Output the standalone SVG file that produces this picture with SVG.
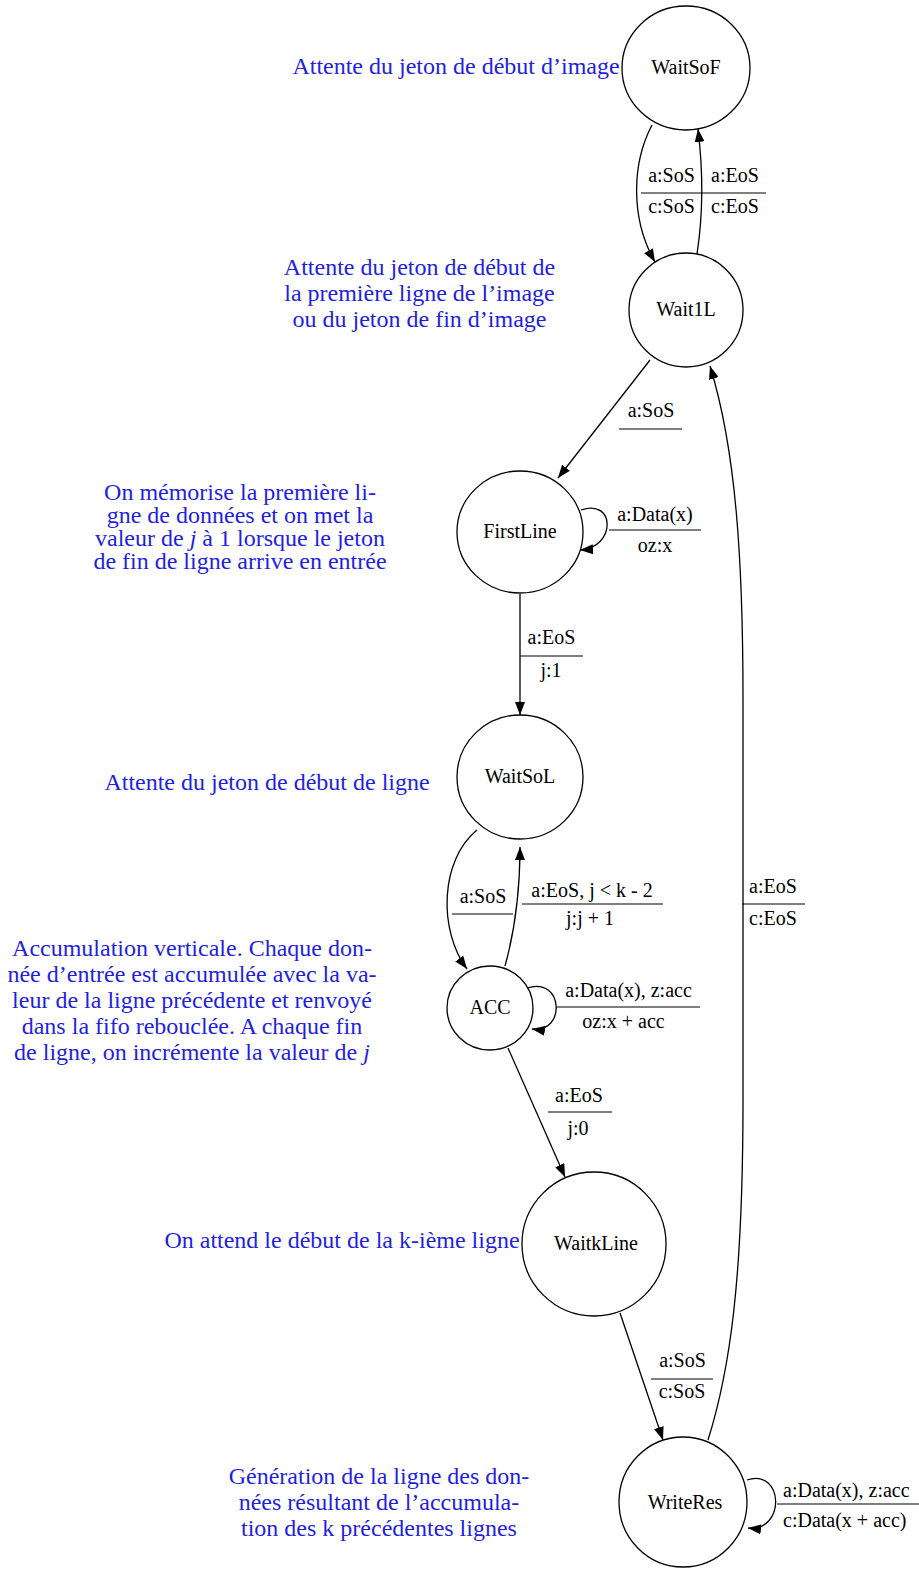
<svg xmlns="http://www.w3.org/2000/svg" width="919" height="1575" viewBox="0 0 919 1575">
<defs>
<style>
.node ellipse{fill:none;stroke:#000;stroke-width:1.3}
.node text{font-family:"Liberation Serif","Times New Roman",serif;font-size:20px;fill:#000;text-anchor:middle}
.note{font-family:"Liberation Serif","Times New Roman",serif;font-size:24px;fill:#1f1fe0;text-anchor:middle}
.edge path{fill:none;stroke:#000;stroke-width:1.3}
.edge line{stroke:#000;stroke-width:1.2}
.lbl{font-family:"Liberation Serif","Times New Roman",serif;font-size:20px;fill:#000;text-anchor:middle}
.lbs{font-family:"Liberation Serif","Times New Roman",serif;font-size:20px;fill:#000;text-anchor:start}
</style>
<marker id="arr" markerWidth="14" markerHeight="10" refX="13" refY="5" orient="auto" markerUnits="userSpaceOnUse"><path d="M0,0 L13,5 L0,10 z" fill="#000"/></marker>
</defs>
<rect width="919" height="1575" fill="#fff"/>

<g id="annotations">
<text class="note" x="456" y="74">Attente du jeton de début d’image</text>
<text class="note" x="419.5" y="275">Attente du jeton de début de</text>
<text class="note" x="419.5" y="301">la première ligne de l’image</text>
<text class="note" x="419.5" y="327">ou du jeton de fin d’image</text>
<text class="note" x="240" y="500">On mémorise la première li-</text>
<text class="note" x="240" y="523">gne de données et on met la</text>
<text class="note" x="240" y="546">valeur de <tspan font-style="italic">j</tspan> à 1 lorsque le jeton</text>
<text class="note" x="240" y="569">de fin de ligne arrive en entrée</text>
<text class="note" x="267" y="790">Attente du jeton de début de ligne</text>
<text class="note" x="192" y="956">Accumulation verticale. Chaque don-</text>
<text class="note" x="192" y="982">née d’entrée est accumulée avec la va-</text>
<text class="note" x="192" y="1008">leur de la ligne précédente et renvoyé</text>
<text class="note" x="192" y="1034">dans la fifo rebouclée. A chaque fin</text>
<text class="note" x="192" y="1060">de ligne, on incrémente la valeur de <tspan font-style="italic">j</tspan></text>
<text class="note" x="342" y="1248">On attend le début de la k-ième ligne</text>
<text class="note" x="379" y="1484">Génération de la ligne des don-</text>
<text class="note" x="379" y="1510">nées résultant de l’accumula-</text>
<text class="note" x="379" y="1536">tion des k précédentes lignes</text>
</g>

<g id="node-WaitSoF" class="node"><ellipse cx="686" cy="68" rx="64" ry="62"/><text x="686" y="74">WaitSoF</text></g>
<g id="node-Wait1L" class="node"><ellipse cx="686" cy="310" rx="57" ry="57"/><text x="686" y="316">Wait1L</text></g>
<g id="node-FirstLine" class="node"><ellipse cx="520" cy="532" rx="63" ry="61"/><text x="520" y="538">FirstLine</text></g>
<g id="node-WaitSoL" class="node"><ellipse cx="520" cy="777" rx="63" ry="62"/><text x="520" y="783">WaitSoL</text></g>
<g id="node-ACC" class="node"><ellipse cx="490" cy="1008" rx="43" ry="42"/><text x="490" y="1014">ACC</text></g>
<g id="node-WaitkLine" class="node"><ellipse cx="594" cy="1244" rx="72" ry="72"/><text x="596" y="1250">WaitkLine</text></g>
<g id="node-WriteRes" class="node"><ellipse cx="683" cy="1502" rx="64" ry="65"/><text x="685" y="1509">WriteRes</text></g>

<g id="connectors" class="edge">
<!-- WaitSoF -> Wait1L -->
<path d="M652,125 C631,165 631,220 655,262" marker-end="url(#arr)"/>
<text class="lbl" x="671.5" y="182">a:SoS</text>
<line x1="641" y1="193" x2="700" y2="193"/>
<text class="lbl" x="671.5" y="213">c:SoS</text>
<!-- Wait1L -> WaitSoF -->
<path d="M697,254 C703,215 703,170 698,129" marker-end="url(#arr)"/>
<text class="lbl" x="735" y="182">a:EoS</text>
<line x1="700" y1="193" x2="766" y2="193"/>
<text class="lbl" x="735" y="213">c:EoS</text>
<!-- Wait1L -> FirstLine -->
<path d="M650,360 L558,478" marker-end="url(#arr)"/>
<text class="lbl" x="651" y="417">a:SoS</text>
<line x1="619" y1="429" x2="682" y2="429"/>
<!-- FirstLine self -->
<path d="M581,510 C616,498 616,548 580,550" marker-end="url(#arr)"/>
<text class="lbl" x="655" y="521">a:Data(x)</text>
<line x1="609" y1="530" x2="701" y2="530"/>
<text class="lbl" x="655" y="552">oz:x</text>
<!-- FirstLine -> WaitSoL -->
<path d="M520,594 L520,715" marker-end="url(#arr)"/>
<text class="lbl" x="551.5" y="644">a:EoS</text>
<line x1="520" y1="656" x2="583" y2="656"/>
<text class="lbl" x="551" y="677">j:1</text>
<!-- WaitSoL -> ACC -->
<path d="M477,830 C440,860 438,930 467,969" marker-end="url(#arr)"/>
<text class="lbl" x="483" y="903">a:SoS</text>
<line x1="452" y1="914" x2="513" y2="914"/>
<!-- ACC -> WaitSoL -->
<path d="M505,966 C515,930 520,890 520,847" marker-end="url(#arr)"/>
<text class="lbl" x="592" y="897">a:EoS, j &lt; k - 2</text>
<line x1="522" y1="904" x2="663" y2="904"/>
<text class="lbl" x="590" y="925">j:j + 1</text>
<!-- ACC self -->
<path d="M527,988 C564,976 566,1034 532,1029" marker-end="url(#arr)"/>
<text class="lbl" x="628.5" y="997">a:Data(x), z:acc</text>
<line x1="557" y1="1007" x2="700" y2="1007"/>
<text class="lbl" x="623.5" y="1028">oz:x + acc</text>
<!-- ACC -> WaitkLine -->
<path d="M508,1048 L565,1177" marker-end="url(#arr)"/>
<text class="lbl" x="579" y="1102">a:EoS</text>
<line x1="548" y1="1112" x2="612" y2="1112"/>
<text class="lbl" x="578" y="1135">j:0</text>
<!-- WaitkLine -> WriteRes -->
<path d="M620,1313 L663,1440" marker-end="url(#arr)"/>
<text class="lbl" x="682.5" y="1367">a:SoS</text>
<line x1="651" y1="1379" x2="713" y2="1379"/>
<text class="lbl" x="682" y="1398">c:SoS</text>
<!-- WriteRes self -->
<path d="M747,1480 C784,1468 786,1532 748,1528" marker-end="url(#arr)"/>
<text class="lbs" x="783" y="1497">a:Data(x), z:acc</text>
<line x1="777" y1="1504" x2="919" y2="1504"/>
<text class="lbs" x="783" y="1527">c:Data(x + acc)</text>
<!-- WriteRes -> Wait1L -->
<path d="M708,1440 C730,1370 743,1280 743,1100 L743,700 C743,560 736,450 710,366" marker-end="url(#arr)"/>
<text class="lbs" x="749" y="893">a:EoS</text>
<line x1="742" y1="904" x2="805" y2="904"/>
<text class="lbs" x="749" y="925">c:EoS</text>
</g>
</svg>
